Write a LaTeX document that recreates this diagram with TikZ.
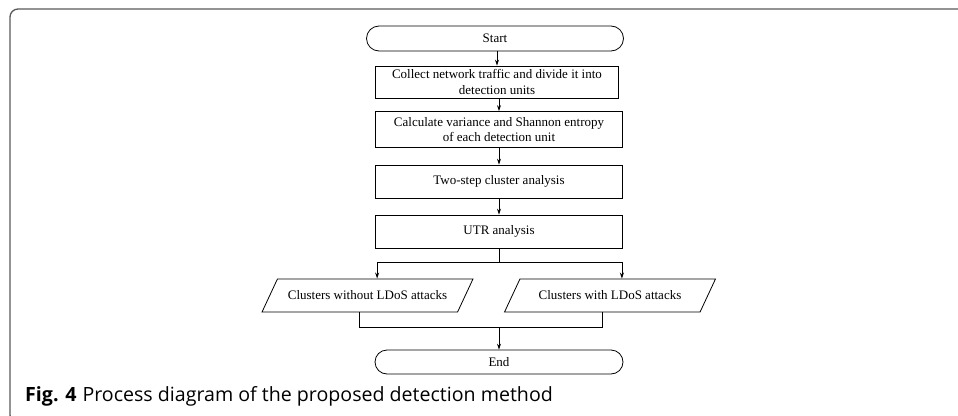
\documentclass[tikz,border=0pt]{standalone}
\usepackage{fontspec}
\setmainfont{Liberation Serif}
\newfontfamily\capfont{Open Sans}
\usetikzlibrary{shapes.misc,shapes.geometric,arrows.meta,calc}
\tikzset{
	term/.style={rounded rectangle,draw,line width=0.8pt,minimum width=#1,minimum height=25pt,inner sep=0pt},
	proc/.style={rectangle,draw,line width=0.8pt,minimum width=#1,minimum height=33pt,inner sep=0pt,align=center},
	io/.style={trapezium,draw,line width=0.8pt,trapezium left angle=65,trapezium right angle=115,trapezium stretches body=true,minimum width=211pt,inner xsep=3pt,inner ysep=12pt},
	ar/.style={line width=0.8pt,-{Stealth[length=6pt,width=4pt]}}
}

\begin{document}
\begin{tikzpicture}[x=1pt,y=-1pt,font=\fontsize{13}{15.5}\selectfont]
					\useasboundingbox (0,0) rectangle (958,415);
					\clip (0,0) rectangle (958,415);
					% frame and caption
					\draw [line width=1.3pt,black!65,rounded corners=8pt] (970,9) -- (10,9) -- (10,423) -- (40,423);
					\node [anchor=base west,inner sep=0pt,font=\capfont\fontsize{19.6}{22}\selectfont] (cap) at (25,401)
						{\textbf{Fig. 4}\hspace{6pt}Process diagram of the proposed detection method};

					\node [term=257pt] (start) at (495,38.5) {Start};
					\node [proc=243pt,minimum height=32pt] (collect) at (497,82) {Collect network traffic and divide it into\\detection units};
					\node [proc=247pt,minimum height=36pt] (calc) at (499,129.5) {Calculate variance and Shannon entropy\\of each detection unit};
					\node [proc=247pt] (twostep) at (499,181.5) {Two-step cluster analysis};
					\node [proc=247pt] (utr) at (499,231.5) {UTR analysis};
					\node [io] (noattack) at (367.5,295.5) {Clusters without LDoS attacks};
					\node [io] (attack) at (610,295.5) {Clusters with LDoS attacks};
					\node [term=248pt,minimum height=24pt] (end) at (499,362) {End};

					\coordinate (fork) at (499,262);
					\coordinate (merge) at (499,327);
					\coordinate (nobot) at ($(noattack.bottom left corner)!0.5!(noattack.bottom right corner)$);
					\coordinate (atbot) at ($(attack.bottom left corner)!0.5!(attack.bottom right corner)$);

					\draw [ar] (start.south -| collect.north) -- (collect.north);
					\draw [ar] (collect.south -| calc.north) -- (calc.north);
					\draw [ar] (calc) -- (twostep);
					\draw [ar] (twostep) -- (utr);
					\draw [line width=0.8pt] (utr.south) -- (fork);
					\draw [ar] (fork) -| ([xshift=2pt]utr.south west |- noattack.north);
					\draw [ar] (fork) -| ([xshift=-1pt]utr.south east |- attack.north);
					\draw [line width=0.8pt] (nobot) |- (merge);
					\draw [line width=0.8pt] (atbot) |- (merge);
					\draw [ar] (merge) -- (end.north);
				\end{tikzpicture}
\end{document}
